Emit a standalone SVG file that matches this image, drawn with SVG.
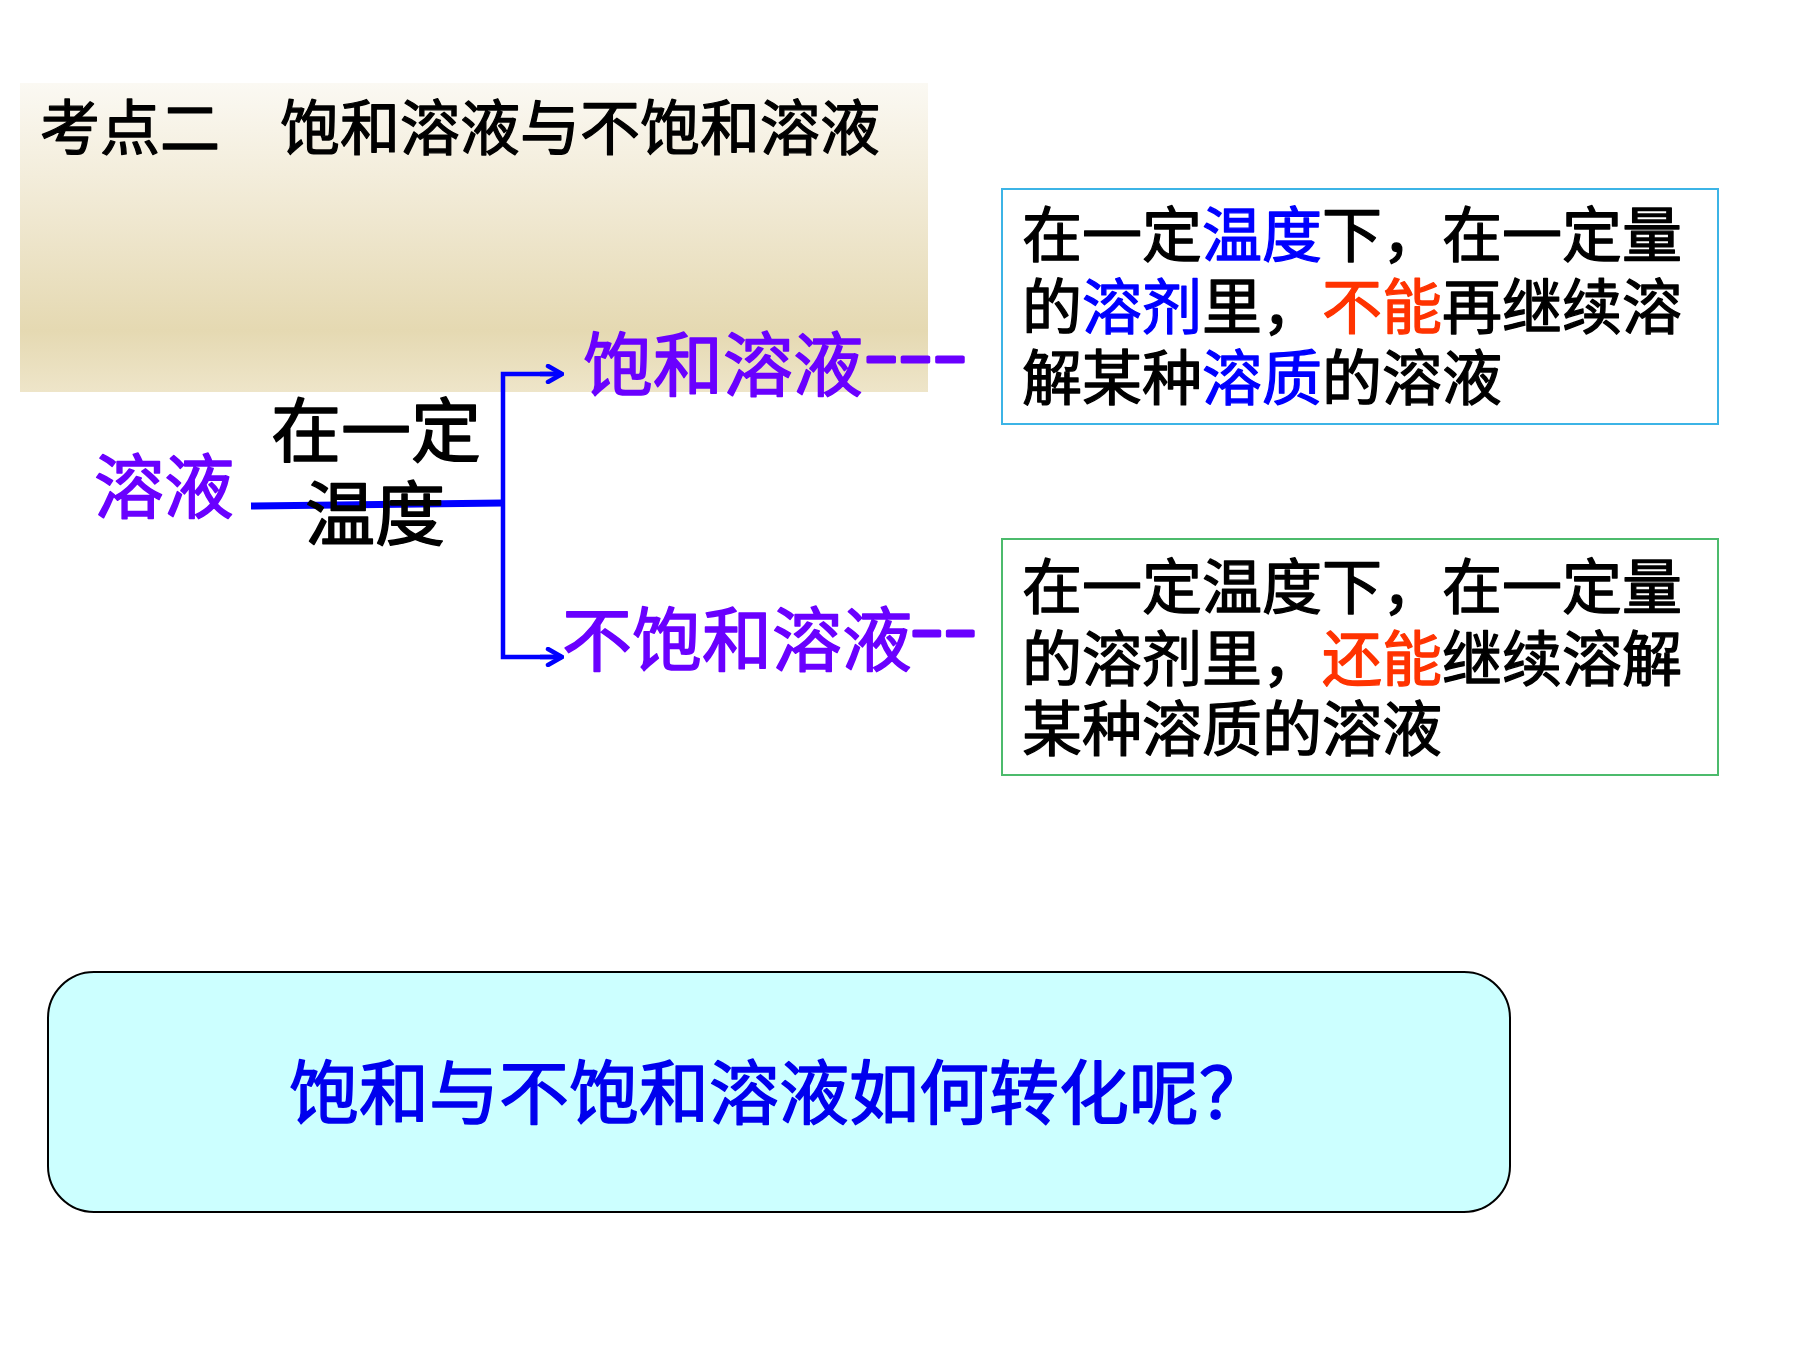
<svg xmlns="http://www.w3.org/2000/svg" width="1800" height="1350" viewBox="0 0 1800 1350">
<style>
text{font-family:"Noto Sans CJK SC","Noto Sans",sans-serif;stroke-linejoin:round;}
.t60{font-size:60px;fill:#000;stroke:#000;stroke-width:1.3px;}
.t70{font-size:70px;stroke-width:1.5px;}
.pur{fill:#6a00ff;stroke:#6a00ff;}
.blk{fill:#000;stroke:#000;}
.blu{fill:#0000ff;stroke:#0000ff;}
.red{fill:#ff3300;stroke:#ff3300;}
.q{fill:#0000ee;stroke:#0000ee;}
.dash{stroke-width:3px;}
.conn{stroke:#0000ff;fill:none;stroke-linecap:butt;}
</style>
<defs>
<linearGradient id="bannerGrad" x1="0" y1="0" x2="0" y2="1">
<stop offset="0" stop-color="#fbf9f3"/>
<stop offset="0.45" stop-color="#efe7cf"/>
<stop offset="0.8" stop-color="#e5d9b2"/>
<stop offset="1" stop-color="#eee5c9"/>
</linearGradient>
<marker id="chev" viewBox="0 0 20 20" refX="18" refY="10" markerWidth="20" markerHeight="20" markerUnits="userSpaceOnUse" orient="auto">
<path d="M4,2 L18,10 L4,18" fill="none" stroke="#0000ff" stroke-width="4.5" stroke-linecap="round" stroke-linejoin="miter"/>
</marker>
</defs>
<rect width="1800" height="1350" fill="#fff"/>

<g id="title">
<rect x="20" y="83" width="908" height="309" fill="url(#bannerGrad)"/>
<text x="40" y="150" class="t60">考点二　饱和溶液与不饱和溶液</text>
</g>

<g id="connectors">
<line class="conn" x1="251" y1="506" x2="503" y2="503" stroke-width="7"/>
<polyline class="conn" points="562,374 503,374 503,657 562,657" stroke-width="4.5"/>
<line class="conn" x1="540" y1="374" x2="562" y2="374" stroke-width="4.5" marker-end="url(#chev)"/>
<line class="conn" x1="540" y1="657" x2="562" y2="657" stroke-width="4.5" marker-end="url(#chev)"/>
</g>

<g id="node-solution">
<text x="94" y="513" class="t70 pur">溶液</text>
</g>

<g id="node-condition">
<text x="271" y="457" class="t70 blk">在一定</text>
<text x="305" y="540" class="t70 blk">温度</text>
</g>

<g id="node-saturated">
<text x="583" y="391" class="t70 pur">饱和溶液</text>
<text x="864" y="379" class="t70 pur dash" textLength="103" lengthAdjust="spacingAndGlyphs">---</text>
</g>

<g id="node-unsaturated">
<text x="562" y="666" class="t70 pur">不饱和溶液</text>
<text x="910" y="653" class="t70 pur dash" textLength="67" lengthAdjust="spacingAndGlyphs">--</text>
</g>

<g id="def-saturated">
<rect x="1002" y="189" width="716" height="235" fill="#fff" stroke="#3cb4e6" stroke-width="2"/>
<text class="t60" x="1022" y="257">在一定<tspan class="blu">温度</tspan>下，在一定量</text>
<text class="t60" x="1022" y="329">的<tspan class="blu">溶剂</tspan>里，<tspan class="red">不能</tspan>再继续溶</text>
<text class="t60" x="1022" y="400">解某种<tspan class="blu">溶质</tspan>的溶液</text>
</g>

<g id="def-unsaturated">
<rect x="1002" y="539" width="716" height="236" fill="#fff" stroke="#4cbb6c" stroke-width="2"/>
<text class="t60" x="1022" y="609">在一定温度下，在一定量</text>
<text class="t60" x="1022" y="681">的溶剂里，<tspan class="red">还能</tspan>继续溶解</text>
<text class="t60" x="1022" y="751">某种溶质的溶液</text>
</g>

<g id="question">
<rect x="48" y="972" width="1462" height="240" rx="46" ry="46" fill="#ccffff" stroke="#000" stroke-width="2"/>
<text x="289" y="1119" class="t70 q">饱和与不饱和溶液如何转化呢？</text>
</g>
</svg>
